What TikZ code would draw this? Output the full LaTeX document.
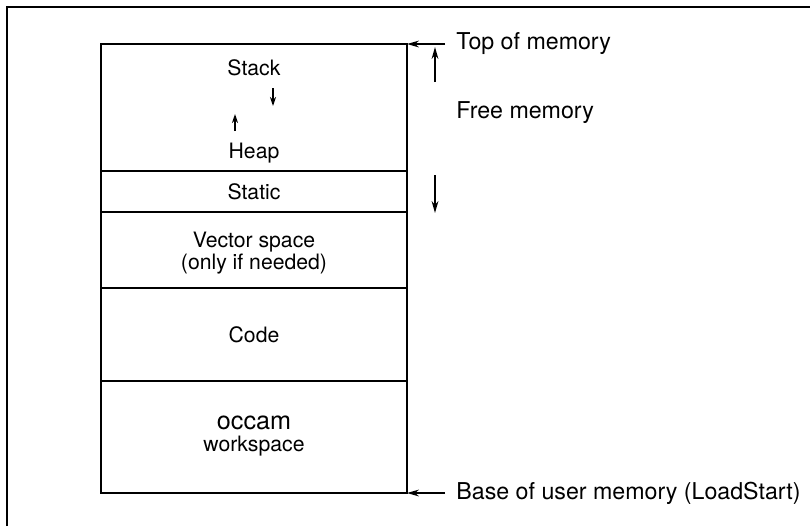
\documentclass[tikz,border=0pt]{standalone}
\usepackage{fontspec}
\setmainfont{TeX Gyre Heros}
\usetikzlibrary{arrows.meta}

\begin{document}
\begin{tikzpicture}[x=0.5pt,y=-0.5pt,
    >={Stealth[length=6pt,width=3.4pt]},
    lbl/.style={font=\fontsize{10.6}{11}\selectfont},
    side/.style={font=\fontsize{11.6}{13}\selectfont, anchor=west, inner sep=5.5pt},
    wall/.style={line width=1pt},
    pointer/.style={line width=0.7pt}]
    \useasboundingbox (0,0) rectangle (810,526);

    % Draw the frame
    \draw[wall] (7,526) -- (7,7) -- (810,7);

    % Draw the memory map
    \draw[wall] (101,44) rectangle (407,493);
    \foreach \y in {171,212,288,381}
        \draw[wall] (101,\y) -- (407,\y);

    % Label the regions
    \node[lbl] (stack) at (254,68) {Stack};
    \node[lbl] (heap) at (254,153) {Heap};
    \node[lbl] (static) at (254,192) {Static};
    \node[lbl, align=center] (vector) at (254,253) {Vector space\\(only if needed)};
    \node[lbl] (code) at (254,335) {Code};
    \node[lbl, align=center] (occam) at (254,436) {{\fontsize{12.6}{11.5}\selectfont occam}\\workspace};

    % Stack and heap growth
    \coordinate (stackfrom) at (273,88);
    \coordinate (stackto) at (273,106);
    \coordinate (heapfrom) at (235,131);
    \coordinate (heapto) at (235,114);
    \draw[pointer, -{Stealth[length=4.5pt,width=3pt]}] (stackfrom) -- (stackto);
    \draw[pointer, -{Stealth[length=4.5pt,width=3pt]}] (heapfrom) -- (heapto);

    % Top and base of memory
    \coordinate (memtop) at (407,44);
    \coordinate (membase) at (407,493);
    \node[side] (toplbl) at (445,44) {Top of memory};
    \node[side] (baselbl) at (445,493) {Base of user memory (LoadStart)};
    \draw[pointer, ->] (toplbl.west) -- (memtop);
    \draw[pointer, ->] (baselbl.west) -- (membase);

    % Free memory
    \node[side] (freelbl) at (445,113) {Free memory};
    \coordinate (freeup) at (435,82);
    \coordinate (freeuptip) at (435,47);
    \coordinate (freedown) at (435,175);
    \coordinate (freedowntip) at (435,213);
    \draw[pointer, ->] (freeup) -- (freeuptip);
    \draw[pointer, ->] (freedown) -- (freedowntip);
\end{tikzpicture}
\end{document}
